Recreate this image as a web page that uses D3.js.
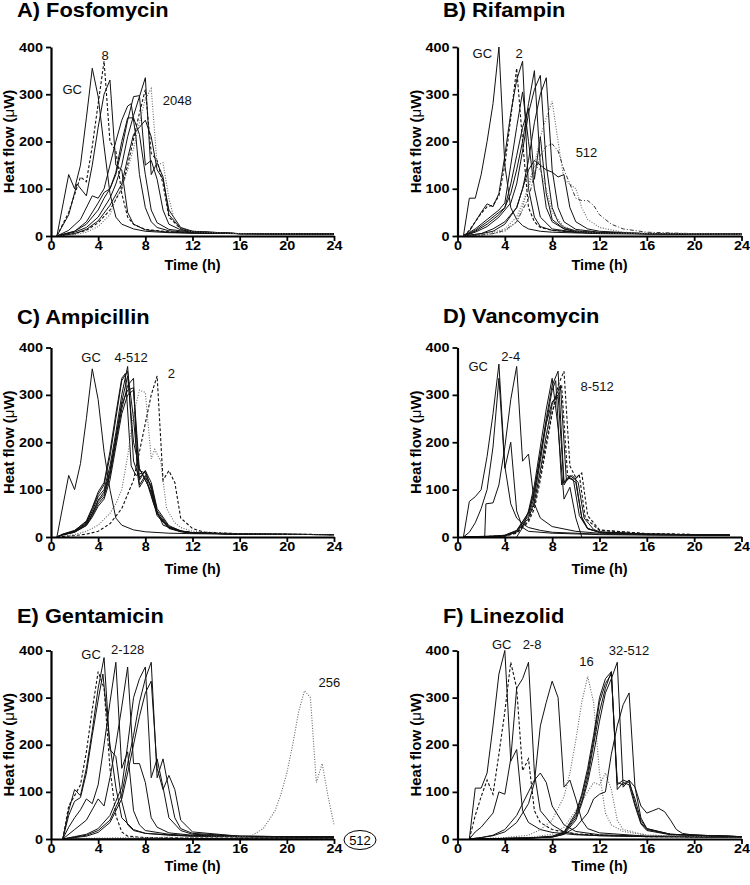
<!DOCTYPE html>
<html><head><meta charset="utf-8">
<script src="https://cdn.jsdelivr.net/npm/d3@7"></script>
<style>body{margin:0;background:#fff} svg{display:block}</style>
</head><body><svg id="c" width="750" height="885"></svg>
<script>
// ---------- shared data ----------
const timeTicks = [0, 4, 8, 12, 16, 20, 24];
const flowTicks = [0, 100, 200, 300, 400];
const panelTitles = ["A) Fosfomycin", "B) Rifampin", "C) Ampicillin", "D) Vancomycin", "E) Gentamicin", "F) Linezolid"];
const xTitle = "Time (h)";
const yTitle = "Heat flow (";

// ---------- A) Fosfomycin : [time h, heat flow µW] ----------
const fosfomycinCurves = [
  [[0.5,0],[1.5,130],[2,100],[2.5,150],[3,250],[3.5,355],[4,295],[4.5,190],[5,90],[5.5,40],[6,25],[7,15],[8,10],[10,7],[12,6],[16,5],[24,4]],
  [[0.5,0],[1.5,45],[2.2,110],[3,85],[3.5,150],[4,230],[4.5,300],[5,330],[5.5,150],[6,140],[6.5,50],[7,25],[8,13],[10,8],[12,6],[16,5],[24,4]],
  [[0.5,0],[1.5,50],[2.5,125],[3,115],[3.5,190],[4,280],[4.5,370],[5,200],[5.5,180],[6,90],[6.5,40],[7,25],[8,14],[10,9],[12,7],[16,5],[24,4]],
  [[0.5,0],[1.5,12],[2.5,35],[3.5,85],[4,80],[4.5,100],[5,150],[5.5,200],[6,245],[6.5,275],[6.8,280],[7.2,210],[7.5,130],[8,60],[8.5,30],[9,18],[10,11],[12,7],[16,5],[24,4]],
  [[0.5,0],[2,10],[3,25],[4,55],[4.5,80],[5,100],[5.5,130],[6,185],[6.5,245],[7,295],[7.5,297],[8,150],[8.5,160],[9,120],[9.5,55],[10,25],[11,13],[12,9],[16,5],[24,4]],
  [[0.5,0],[2,8],[3,18],[4,40],[5,80],[5.5,110],[6,150],[6.5,210],[7,255],[7.5,295],[8,335],[8.5,130],[9,155],[9.5,125],[10,45],[11,16],[12,10],[16,5],[24,4]],
  [[0.5,0],[2,10],[3,30],[4,70],[4.5,92],[5,100],[5.5,135],[6,200],[6.5,250],[7,250],[7.5,215],[8,130],[8.5,55],[9,28],[10,14],[12,8],[16,5],[24,4]],
  [[0.5,0],[2,5],[3,14],[4,32],[5,65],[6,110],[6.5,165],[7,215],[7.5,230],[8,245],[8.5,210],[9,140],[9.5,120],[10,55],[11,18],[12,10],[16,5],[24,4]],
  [[0.5,0],[2,5],[3,12],[4,28],[5,55],[6,100],[6.5,150],[7,205],[7.5,260],[8,310],[8.5,175],[9,160],[9.5,110],[10,40],[11,15],[12,9],[16,5],[24,4]],
  [[0.5,0],[2,3],[3,8],[4,20],[5,45],[5.5,80],[6,100],[6.5,140],[7,185],[7.5,240],[8,290],[8.5,312],[9,150],[9.5,155],[10,80],[10.5,30],[11,16],[12,9],[16,5],[24,4]]
];
const fosfomycinKinds = ["solid","solid","dash","solid","solid","solid","solid","solid","dash","dot"];
const fosfomycinNotes = [["GC",1.8,311],["8",4.6,383],["2048",10.7,286]];

// ---------- B) Rifampin ----------
const rifampinCurves = [
  [[0.5,0],[1,80],[1.5,80],[2,130],[2.5,200],[3,280],[3.5,400],[4,150],[4.5,60],[5,35],[5.5,22],[6,15],[7,10],[8,8],[12,5],[16,4],[24,3]],
  [[0.5,0],[1,12],[1.5,30],[2,48],[2.5,62],[3,65],[3.5,85],[4,150],[4.5,250],[5,355],[5.5,200],[6,60],[6.5,30],[7,18],[8,12],[10,8],[12,6],[16,5],[24,4]],
  [[0.5,0],[1,10],[1.5,30],[2,50],[2.5,68],[3,62],[3.5,90],[4,170],[4.5,260],[5,330],[5.5,370],[6,100],[6.5,40],[7,20],[8,12],[10,8],[12,6],[16,5],[24,4]],
  [[0.5,0],[1.5,15],[2.5,35],[3.5,55],[4,70],[4.5,150],[5,230],[5.5,305],[6,200],[6.5,100],[7,40],[8,15],[10,8],[12,6],[16,5],[24,4]],
  [[0.5,0],[1.5,12],[2.5,30],[3.5,50],[4,60],[4.5,90],[5,140],[5.5,200],[6,280],[6.5,350],[7,150],[7.5,60],[8,30],[9,15],[10,10],[12,7],[16,5],[24,4]],
  [[0.5,0],[1.5,8],[2.5,20],[3.5,40],[4.5,70],[5,110],[5.5,180],[6,260],[6.5,310],[7,340],[7.5,150],[8,60],[8.5,30],[9,18],[10,11],[12,7],[16,5],[24,4]],
  [[0.5,0],[2,5],[3,15],[4,30],[5,60],[5.5,100],[6,160],[6.5,240],[7,300],[7.5,335],[8,140],[8.5,60],[9,30],[10,14],[12,8],[16,5],[24,4]],
  [[0.5,0],[2,5],[3,10],[4,25],[5,60],[5.5,100],[6,140],[6.5,160],[7,150],[7.5,140],[8,135],[8.5,125],[9,130],[9.5,60],[10,30],[11,15],[12,10],[16,5],[24,4]],
  [[0.5,0],[1.5,10],[2.5,25],[3.5,45],[4,60],[4.5,110],[5,170],[5.5,230],[6,270],[6.5,120],[7,210],[7.5,90],[8,35],[9,15],[10,9],[12,6],[16,5],[24,4]],
  [[0.5,0],[2,3],[3,8],[4,15],[5,40],[6,100],[6.5,150],[7,210],[7.5,250],[8,285],[8.5,200],[9,120],[9.5,110],[10,100],[10.5,60],[11,35],[12,18],[14,8],[16,6],[24,4]],
  [[0.5,0],[2,2],[3,5],[4,12],[5,30],[6,80],[6.5,130],[7,170],[7.5,190],[8,195],[8.5,180],[9,140],[9.5,110],[10,80],[10.5,75],[11,75],[11.5,65],[12,45],[13,25],[14,15],[16,8],[20,5],[24,4]],
  [[0.5,0],[2,2],[3,5],[4,10],[5,30],[5.5,60],[6,110],[6.5,150],[7,140],[7.5,100],[8,50],[9,20],[10,10],[12,6],[16,5],[24,4]]
];
const rifampinKinds = ["solid","dash","solid","solid","solid","solid","solid","solid","solid","dot","dashdot","dot"];
const rifampinNotes = [["GC",2.1,387],["2",5.2,387],["512",10.9,176]];

// ---------- C) Ampicillin ----------
const ampicillinCurves = [
  [[0.5,0],[1.5,130],[2,100],[2.5,155],[3,250],[3.5,355],[4,290],[4.5,180],[5,100],[5.5,40],[6,25],[7,15],[8,11],[10,8],[12,7],[16,6],[24,5]],
  [[0.5,0],[1,5],[2,12],[3,30],[3.5,55],[4,85],[4.5,100],[5,150],[5.5,220],[6,300],[6.5,360],[7,160],[7.5,125],[8,140],[8.5,100],[9,50],[10,20],[11,12],[12,9],[16,6],[24,5]],
  [[0.5,0],[1,6],[2,14],[3,32],[3.5,60],[4,90],[4.5,110],[5,170],[5.5,250],[6,330],[6.5,350],[7,250],[7.5,110],[8,130],[8.5,90],[9,45],[10,18],[11,11],[12,8],[16,6],[24,5]],
  [[0.5,0],[1,5],[2,10],[3,25],[3.5,45],[4,70],[4.5,85],[5,130],[5.5,200],[6,270],[6.5,320],[7,335],[7.3,140],[7.5,105],[8,125],[8.5,110],[9,55],[10,22],[11,13],[12,9],[16,6],[24,5]],
  [[0.5,0],[1,5],[2,12],[3,28],[3.5,50],[4,78],[4.5,95],[5,140],[5.5,210],[6,280],[6.5,310],[7,315],[7.5,140],[8,135],[8.5,105],[9,50],[10,20],[11,12],[12,9],[16,6],[24,5]],
  [[0.5,0],[1,4],[2,10],[3,24],[3.5,42],[4,65],[4.5,80],[5,120],[5.5,190],[6,260],[6.5,300],[7,310],[7.5,120],[8,140],[8.5,115],[9,60],[10,24],[11,13],[12,9],[16,6],[24,5]],
  [[0.5,0],[1,6],[2,13],[3,34],[3.5,62],[4,95],[4.5,115],[5,180],[5.5,260],[6,335],[6.3,345],[6.8,150],[7.2,130],[7.7,135],[8.2,110],[8.7,70],[9.5,25],[11,12],[12,9],[16,6],[24,5]],
  [[0.5,0],[1,5],[2,11],[3,27],[3.5,48],[4,75],[4.5,90],[5,135],[5.5,205],[6,285],[6.5,340],[7,200],[7.5,145],[8,120],[8.5,95],[9,48],[10,19],[11,12],[12,9],[16,6],[24,5]],
  [[0.5,0],[2,5],[3,12],[4,25],[5,50],[5.5,70],[6,100],[6.5,170],[7,260],[7.5,310],[8,305],[8.5,165],[8.8,185],[9.3,160],[9.8,60],[10.5,30],[11,20],[12,12],[16,7],[24,5]],
  [[0.5,0],[2,3],[3,6],[4,12],[5,28],[6,60],[7,120],[7.5,180],[8,240],[8.5,300],[9,340],[9.5,120],[10,140],[10.5,115],[11,40],[12,18],[13,10],[16,7],[24,5]]
];
const ampicillinKinds = ["solid","solid","solid","solid","solid","solid","solid","solid","dot","dash"];
const ampicillinNotes = [["GC",3.4,378],["4-512",6.8,378],["2",10.2,346]];

// ---------- D) Vancomycin ----------
const vancomycinCurves = [
  [[0.5,0],[1,75],[1.5,85],[2,100],[2.5,170],[3,260],[3.5,365],[4,150],[4.5,70],[5,40],[5.5,28],[6,20],[7,14],[8,10],[12,6],[16,5],[23,4]],
  [[0.5,0],[1,10],[1.5,30],[2,60],[2.5,100],[3,190],[3.5,335],[4,145],[4.5,200],[5,55],[5.5,20],[6,12],[8,8],[12,5],[16,4],[23,3]],
  [[2.3,0],[2.4,70],[3,72],[3.5,110],[4,190],[4.5,290],[5,360],[5.5,160],[6,175],[6.5,70],[7,40],[8,22],[10,12],[12,8],[16,5],[23,4]],
  [[5,0],[5.5,20],[6,55],[6.5,110],[7,190],[7.5,270],[8,335],[8.5,230],[9,80],[9.5,105],[10,40],[10.5,0]],
  [[0.5,0],[3,1],[4,4],[5,14],[6,50],[6.5,95],[7,170],[7.5,250],[8,320],[8.5,350],[9,115],[9.5,125],[10,115],[10.5,40],[11,18],[12,10],[16,6],[23,4]],
  [[0.5,0],[3,1],[4,3],[5,12],[6,45],[6.5,85],[7,160],[7.5,240],[8,310],[8.3,330],[8.8,110],[9.3,125],[9.8,120],[10.3,45],[11,17],[12,10],[16,6],[23,4]],
  [[0.5,0],[4,2],[5,10],[6,40],[6.5,75],[7,140],[7.5,215],[8,280],[8.7,320],[9.2,120],[9.7,130],[10.2,115],[10.7,40],[11.5,16],[12,11],[16,6],[23,4]],
  [[0.5,0],[4,3],[5,13],[6,52],[6.5,100],[7,175],[7.5,240],[8,285],[8.5,300],[9,110],[9.5,130],[10,120],[10.5,42],[11,18],[12,10],[16,6],[23,4]],
  [[0.5,0],[4,2],[5,8],[6,32],[6.5,60],[7,120],[7.5,190],[8,260],[8.5,320],[9,350],[9.5,150],[10,125],[10.5,135],[11,45],[12,15],[16,7],[23,4]],
  [[0.5,0],[4,2],[5,9],[6,36],[6.5,70],[7,130],[7.5,200],[8,265],[8.8,320],[9.3,130],[9.8,120],[10.3,130],[10.8,40],[12,14],[16,7],[23,4]]
];
const vancomycinKinds = ["solid","solid","solid","solid","solid","solid","solid","solid","dash","dash"];
const vancomycinNotes = [["GC",1.75,360],["2-4",4.5,381],["8-512",11.8,317]];

// ---------- E) Gentamicin ----------
const gentamicinCurves = [
  [[1,0],[1.5,60],[2,105],[2.5,92],[3,150],[3.5,230],[4,320],[4.5,385],[5,190],[5.5,175],[6,80],[6.5,30],[7,18],[8,12],[10,8],[12,6],[16,5],[24,4]],
  [[1,0],[1.5,70],[2,92],[2.5,115],[3,185],[3.5,275],[4,355],[4.5,320],[5,150],[5.5,50],[6,15],[6.5,6],[8,3],[12,2],[24,2]],
  [[1,0],[1.5,50],[2,80],[2.5,88],[3,140],[3.5,220],[4,295],[4.4,350],[5,200],[5.5,110],[6,45],[7,20],[8,12],[12,6],[16,5],[24,4]],
  [[1,0],[1.5,25],[2,45],[2.5,62],[3,85],[3.5,75],[4,115],[4.5,200],[5,290],[5.5,375],[6,150],[6.5,185],[7,60],[7.5,30],[8,18],[10,10],[12,7],[16,5],[24,4]],
  [[1,0],[2,20],[3,40],[4,85],[4.5,70],[5,130],[5.5,200],[6,280],[6.5,365],[7,160],[7.5,160],[8,120],[8.5,45],[9,25],[10,13],[12,8],[16,5],[24,4]],
  [[1,0],[2,5],[3,10],[4,22],[5,50],[5.5,80],[6,110],[6.5,200],[7,300],[7.5,340],[8,365],[8.5,130],[9,170],[9.5,110],[10,45],[11,18],[12,10],[16,6],[24,4]],
  [[1,0],[2,4],[3,8],[4,18],[5,40],[6,95],[6.5,160],[7,220],[7.5,290],[8,340],[8.5,375],[9,130],[9.5,170],[10,105],[10.5,45],[11,22],[12,12],[16,6],[24,4]],
  [[1,0],[2,3],[3,6],[4,14],[5,35],[6,85],[6.5,140],[7,200],[7.5,260],[8,310],[8.5,335],[9,150],[9.5,105],[10,135],[10.5,105],[11,40],[12,15],[16,6],[24,4]],
  [[1,0],[4,2],[8,3],[12,4],[16,5],[17,7],[18,22],[19,60],[19.5,95],[20,140],[20.5,200],[21,270],[21.5,315],[22,300],[22.5,120],[23,160],[23.5,90],[24,30]],
  [[1,0],[12,1],[24,2]]
];
const gentamicinKinds = ["solid","dash","solid","solid","solid","solid","solid","solid","dot","solid"];
const gentamicinNotes = [["GC",3.4,391],["2-128",6.5,402],["256",23.6,332]];
const gentamicinBoxed = "512";

// ---------- F) Linezolid ----------
const linezolidCurves = [
  [[1,0],[1.5,108],[2,108],[2.5,140],[3,240],[3.5,350],[4,400],[4.5,165],[5,190],[5.5,60],[6,35],[7,20],[8,14],[10,9],[12,7],[16,5],[24,4]],
  [[1,0],[1.5,50],[2,90],[2.5,125],[3,95],[3.5,180],[4,270],[4.5,375],[5,320],[5.5,145],[6,170],[6.5,60],[7,35],[8,20],[10,11],[12,8],[16,5],[24,4]],
  [[1,0],[1.5,15],[2,25],[3,55],[3.5,100],[4,95],[4.5,170],[5,320],[5.5,340],[6,375],[6.5,140],[7,60],[8,30],[9,15],[10,10],[12,7],[16,5],[24,4]],
  [[1,0],[2,3],[3,8],[4,20],[5,50],[6,100],[6.5,125],[7,140],[7.5,120],[8,70],[9,30],[10,16],[12,9],[16,6],[24,4]],
  [[1,0],[2,3],[3,7],[4,15],[5,35],[6,75],[6.5,120],[7,240],[7.5,290],[8,335],[8.5,300],[9,110],[9.5,125],[10,85],[10.5,40],[11,22],[12,13],[16,6],[24,4]],
  [[1,0],[4,3],[6,8],[7,20],[8,40],[9,90],[9.5,140],[10,210],[10.5,290],[11,345],[11.5,290],[12,140],[12.5,55],[13,30],[14,16],[16,8],[24,4]],
  [[1,0],[6,3],[8,10],[9,25],[10,60],[11,100],[11.5,120],[12,115],[12.5,140],[13,105],[13.5,40],[14,20],[16,8],[24,4]],
  [[1,0],[6,2],[8,6],[9,15],[10,55],[10.5,95],[11,150],[11.5,220],[12,300],[12.5,340],[13,355],[13.5,115],[14,125],[14.5,120],[15,85],[15.5,40],[16,22],[18,10],[24,5]],
  [[1,0],[6,2],[8,5],[9,13],[10,50],[10.5,90],[11,140],[11.5,210],[12,290],[12.5,330],[13,350],[13.5,120],[14,115],[14.5,125],[15,75],[15.5,35],[16,20],[18,10],[24,5]],
  [[1,0],[6,2],[8,4],[9,10],[10,40],[10.5,75],[11,120],[11.5,180],[12,250],[12.5,310],[13,340],[13.5,375],[14,110],[14.5,125],[15,110],[15.5,45],[16,22],[18,10],[24,5]],
  [[1,0],[6,2],[8,5],[9,12],[10,45],[10.5,80],[11,130],[11.5,200],[12,270],[12.5,320],[13,355],[13.5,105],[14,120],[14.5,115],[15,70],[15.5,32],[16,18],[18,9],[24,5]],
  [[1,0],[6,2],[8,4],[9,10],[10,25],[11,55],[11.5,85],[12,95],[12.5,100],[13,180],[13.5,240],[14,285],[14.5,310],[15,110],[15.5,70],[16,55],[16.5,60],[17,65],[17.5,58],[18,40],[18.5,20],[19,12],[20,8],[24,5]]
];
const linezolidKinds = ["solid","dash","solid","solid","solid","dot","dot","solid","solid","solid","solid","solid"];
const linezolidNotes = [["GC",3.74,412],["2-8",6.3,412],["16",10.9,376],["32-512",14.5,401]];

// ---------- drawing ----------
const svg = d3.select("#c");
const FONT = "'Liberation Sans', Arial, Helvetica, sans-serif";

const panels = [
  {curves: fosfomycinCurves, kinds: fosfomycinKinds, notes: fosfomycinNotes, x0: 51,    x1: 334,   yT: 47,    yB: 236,   tx: 17,  ty: 16.5,  lx: 270},
  {curves: rifampinCurves,   kinds: rifampinKinds,   notes: rifampinNotes,   x0: 457.5, x1: 741.5, yT: 47,    yB: 236,   tx: 443, ty: 16.5,  lx: 270},
  {curves: ampicillinCurves, kinds: ampicillinKinds, notes: ampicillinNotes, x0: 51,    x1: 334,   yT: 347.5, yB: 537,   tx: 17,  ty: 323.5, lx: 574},
  {curves: vancomycinCurves, kinds: vancomycinKinds, notes: vancomycinNotes, x0: 457.5, x1: 741.5, yT: 347.5, yB: 537,   tx: 443, ty: 323,   lx: 574},
  {curves: gentamicinCurves, kinds: gentamicinKinds, notes: gentamicinNotes, x0: 51,    x1: 334,   yT: 650.5, yB: 839,   tx: 17,  ty: 622.5, lx: 871},
  {curves: linezolidCurves,  kinds: linezolidKinds,  notes: linezolidNotes,  x0: 457.5, x1: 741.5, yT: 650.5, yB: 839,   tx: 443, ty: 622.5, lx: 871}
];

const kindStyle = {
  solid:   {stroke: "#111", dash: null,        w: 1},
  dash:    {stroke: "#111", dash: "3,2",       w: 1.1},
  dot:     {stroke: "#666", dash: "1,1.6",     w: 1.1},
  dashdot: {stroke: "#333", dash: "4,2,1,2",   w: 1}
};

panels.forEach((p, i) => {
  const x = d3.scaleLinear().domain([0, 24]).range([p.x0, p.x1]);
  const y = d3.scaleLinear().domain([0, 400]).range([p.yB, p.yT]);
  const g = svg.append("g");

  // title
  g.append("text")
    .attr("transform", `translate(${p.tx},${p.ty}) scale(1.12,1)`)
    .attr("font-family", FONT).attr("font-weight", "bold").attr("font-size", 19.5)
    .text(panelTitles[i]);

  // curves
  const line = d3.line().x(d => x(d[0])).y(d => y(d[1]));
  p.curves.forEach((c, k) => {
    const st = kindStyle[p.kinds[k]];
    g.append("path").attr("d", line(c)).attr("fill", "none")
      .attr("stroke", st.stroke).attr("stroke-width", st.w)
      .attr("stroke-dasharray", st.dash).attr("stroke-linejoin", "miter");
  });

  // axes
  const ax = g.append("g").attr("transform", `translate(0,${p.yB})`)
    .call(d3.axisBottom(x).tickValues(timeTicks).tickSize(5).tickSizeOuter(0).tickPadding(0));
  const ay = g.append("g").attr("transform", `translate(${p.x0},0)`)
    .call(d3.axisLeft(y).tickValues(flowTicks).tickSize(5).tickSizeOuter(0).tickPadding(2));
  [ax, ay].forEach(a => {
    a.select(".domain").attr("stroke", "#000").attr("stroke-width", 2.2);
    a.selectAll(".tick line").attr("stroke", "#000").attr("stroke-width", 1.8);
    a.selectAll(".tick text").attr("fill", "#000")
      .attr("font-family", FONT).attr("font-weight", "bold").attr("font-size", 12.5)
      .attr("transform", "scale(1.15,1)");
  });

  // axis titles
  g.append("text").attr("x", (p.x0 + p.x1) / 2).attr("y", p.lx)
    .attr("text-anchor", "middle").attr("font-family", FONT)
    .attr("font-weight", "bold").attr("font-size", 14.5).text(xTitle);
  const yl = g.append("text")
    .attr("transform", `translate(${p.x0 - 37},${(p.yT + p.yB) / 2}) rotate(-90)`)
    .attr("text-anchor", "middle").attr("font-family", FONT)
    .attr("font-weight", "bold").attr("font-size", 15);
  yl.append("tspan").text(yTitle);
  yl.append("tspan").attr("font-weight", "normal").text("\u03bc");
  yl.append("tspan").text("W)");

  // curve annotations
  p.notes.forEach(n => {
    g.append("text").attr("x", x(n[1])).attr("y", y(n[2]))
      .attr("text-anchor", "middle").attr("dominant-baseline", "central")
      .attr("font-family", FONT).attr("font-size", 13).attr("fill", "#111").text(n[0]);
  });

  if (i === 4) {
    const cx = x(24) + 26, cy = y(0) + 1;
    g.append("ellipse").attr("cx", cx).attr("cy", cy).attr("rx", 16).attr("ry", 9.5)
      .attr("fill", "#fff").attr("stroke", "#000").attr("stroke-width", 1);
    g.append("text").attr("x", cx).attr("y", cy).attr("text-anchor", "middle")
      .attr("dominant-baseline", "central").attr("font-family", FONT)
      .attr("font-size", 13).text(gentamicinBoxed);
  }
});
</script>
</body></html>
